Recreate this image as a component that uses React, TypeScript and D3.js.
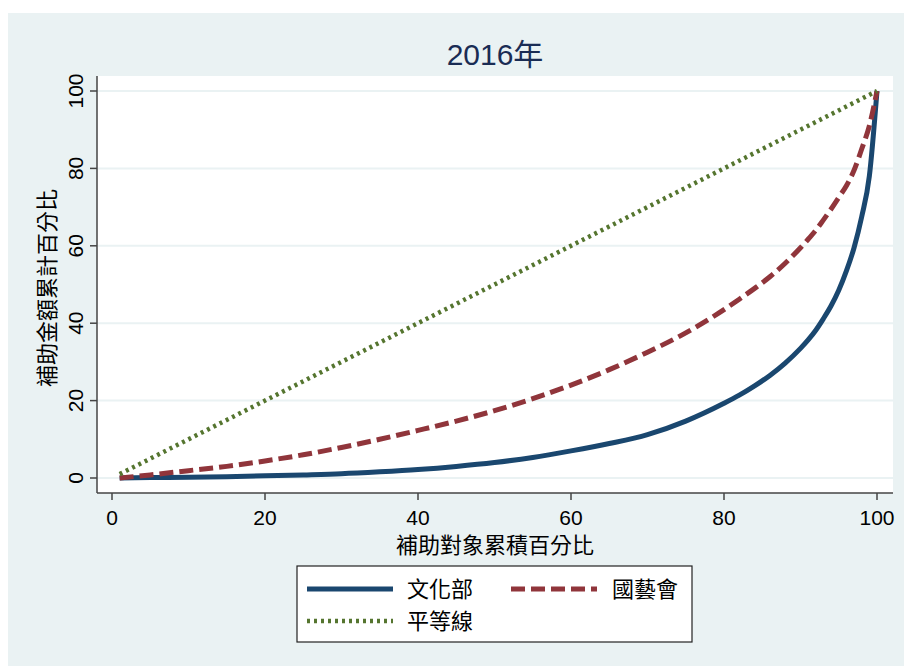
import * as d3 from "d3";

// percentile points (x) shared by both Lorenz curves
const pct = [1, 5, 10, 15, 20, 25, 30, 35, 40, 45, 50, 55, 60, 65, 70, 75, 80, 82, 84, 86, 88, 90, 91, 92, 93, 94, 95, 96, 97, 98, 99, 100];

// cumulative share of grants, 文化部
const moc = [0, 0.1, 0.2, 0.35, 0.55, 0.8, 1.1, 1.6, 2.2, 3.0, 4.0, 5.3, 7.0, 8.9, 11.2, 14.7, 19.3, 21.4, 23.8, 26.5, 29.7, 33.5, 35.7, 38.2, 41.2, 44.5, 48.5, 53.5, 59.5, 67.5, 78, 100];

// cumulative share of grants, 國藝會
const ncaf = [0, 0.8, 1.9, 3.0, 4.4, 6.0, 7.9, 10.0, 12.3, 14.7, 17.4, 20.5, 24.0, 28.0, 32.5, 37.5, 43.5, 46.2, 49.0, 52.0, 55.5, 59.5, 61.7, 64, 66.7, 69.5, 72.5, 75.5, 79.5, 85, 91, 100];

// equality line
const equalX = [1, 100];
const equalY = [1, 100];

const xTicks = [0, 20, 40, 60, 80, 100];
const yTicks = [0, 20, 40, 60, 80, 100];

const title = "2016年";
const xLabel = "補助對象累積百分比";
const yLabel = "補助金額累計百分比";

const series = [
  { name: "文化部", xs: pct, ys: moc, color: "#1a476f", width: 5, dash: "none" },
  { name: "國藝會", xs: pct, ys: ncaf, color: "#90353b", width: 5, dash: "14,6" },
  { name: "平等線", xs: equalX, ys: equalY, color: "#55752f", width: 4.5, dash: "3,4" },
];

const W = 904;
const H = 666;
const bg = "#eaf2f3";
const font = "'Liberation Sans', Arial, 'Noto Sans CJK TC', sans-serif";

export default function App() {
  const plot = { left: 97, right: 893, top: 76, bottom: 493 };
  const x = d3.scaleLinear().domain([0, 100]).range([112, 877]);
  const y = d3.scaleLinear().domain([0, 100]).range([478, 91]);

  const line = d3
    .line<[number, number]>()
    .x((d) => x(d[0]))
    .y((d) => y(d[1]))
    .curve(d3.curveMonotoneX);

  // legend slots
  const legendPos = [
    { x0: 307, x1: 393, ty: 589, tx: 407 },
    { x0: 511, x1: 597, ty: 589, tx: 612 },
    { x0: 307, x1: 393, ty: 621, tx: 407 },
  ];

  return (
    <svg width={W} height={H} style={{ position: "absolute", left: 0, top: 0 }} fontFamily={font}>
      <rect x={0} y={0} width={W} height={H} fill="#fff" />
      <rect x={8} y={13} width={W - 8} height={H - 13} fill={bg} />

      {/* title */}
      <text x={(plot.left + plot.right) / 2} y={65} textAnchor="middle" fontSize={30} fill="#1a2c54">
        {title}
      </text>

      {/* plot region */}
      <rect x={plot.left} y={plot.top} width={plot.right - plot.left} height={plot.bottom - plot.top} fill="#fff" />

      {yTicks.map((t) => (
        <line key={"g" + t} x1={plot.left} x2={plot.right} y1={y(t)} y2={y(t)} stroke={bg} strokeWidth={2} />
      ))}

      {/* axes */}
      <line x1={plot.left} x2={plot.left} y1={plot.top} y2={plot.bottom} stroke="#444" strokeWidth={1.5} />
      <line x1={plot.left} x2={plot.right} y1={plot.bottom} y2={plot.bottom} stroke="#444" strokeWidth={1.5} />

      {yTicks.map((t) => (
        <g key={"y" + t}>
          <line x1={plot.left - 7} x2={plot.left} y1={y(t)} y2={y(t)} stroke="#444" strokeWidth={1.5} />
          <text transform={`translate(83,${y(t)}) rotate(-90)`} textAnchor="middle" fontSize={21} fill="#000">
            {t}
          </text>
        </g>
      ))}

      {xTicks.map((t) => (
        <g key={"x" + t}>
          <line x1={x(t)} x2={x(t)} y1={plot.bottom} y2={plot.bottom + 7} stroke="#444" strokeWidth={1.5} />
          <text x={x(t)} y={525} textAnchor="middle" fontSize={21} fill="#000">
            {t}
          </text>
        </g>
      ))}

      <text x={(plot.left + plot.right) / 2} y={553} textAnchor="middle" fontSize={22} fill="#000">
        {xLabel}
      </text>
      <text transform={`translate(55,288) rotate(-90)`} textAnchor="middle" fontSize={22} fill="#000">
        {yLabel}
      </text>

      {/* curves */}
      {series.map((s) => (
        <path
          key={s.name}
          d={line(s.xs.map((v, i) => [v, s.ys[i]] as [number, number])) || ""}
          fill="none"
          stroke={s.color}
          strokeWidth={s.width}
          strokeDasharray={s.dash}
          strokeLinejoin="round"
        />
      ))}

      {/* legend */}
      <rect x={297} y={566} width={395} height={76} fill="#fff" stroke="#222" strokeWidth={1.2} />
      {series.map((s, i) => {
        const p = legendPos[i];
        return (
          <g key={"l" + s.name}>
            <line x1={p.x0} x2={p.x1} y1={p.ty} y2={p.ty} stroke={s.color} strokeWidth={s.width} strokeDasharray={s.dash} />
            <text x={p.tx} y={p.ty + 8} fontSize={22} fill="#000">
              {s.name}
            </text>
          </g>
        );
      })}
    </svg>
  );
}
